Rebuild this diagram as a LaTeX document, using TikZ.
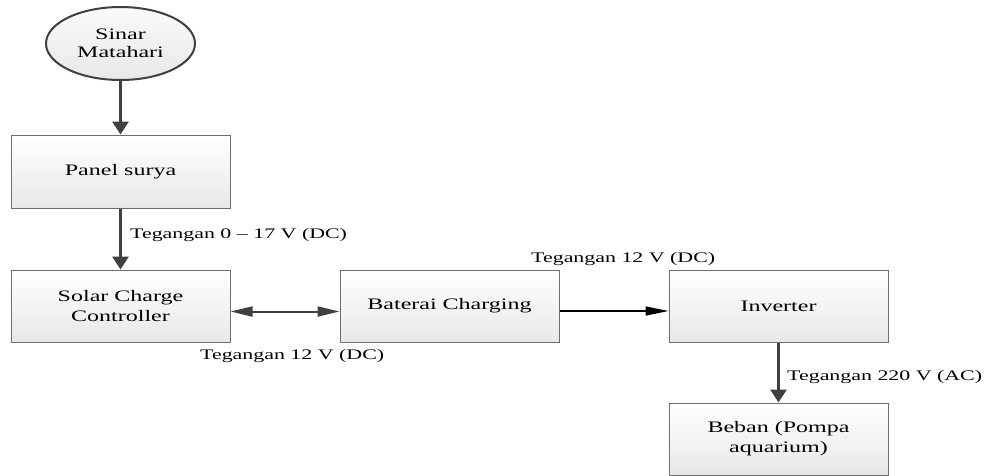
\documentclass[tikz,border=0pt]{standalone}
\usepackage{fontspec}
\setmainfont{Liberation Serif}
\usetikzlibrary{arrows.meta,shadows,shapes.geometric}
\newcommand{\sx}[1]{\scalebox{1.5}[1]{#1}}
\definecolor{arrowgray}{HTML}{404040}
\definecolor{boxline}{HTML}{6E6E6E}
\tikzset{
  blockbox/.style={draw=boxline, line width=1pt, minimum width=219pt, minimum height=72pt,
    inner sep=0pt, align=center, top color=white, bottom color=black!9,
    drop shadow={shadow xshift=1.2pt, shadow yshift=-1.2pt, fill=black!45, opacity=0.6},
    font=\fontsize{16}{20}\selectfont},
  sunshape/.style={ellipse, draw=arrowgray, line width=2pt, minimum width=149pt, minimum height=73pt,
    inner sep=0pt, align=center, top color=black!2, bottom color=black!9,
    font=\fontsize{16}{18.5}\selectfont},
  thickarrow/.style={draw=arrowgray, line width=3pt, -{Triangle[length=13pt,width=16pt]}},
  dblarrow/.style={draw=arrowgray, line width=2pt, {Triangle[length=22pt,width=10pt]}-{Triangle[length=22pt,width=10pt]}},
  thinarrow/.style={draw=black, line width=1.5pt, -{Triangle[length=23pt,width=9pt]}},
  lbl/.style={inner sep=0pt, anchor=west, font=\fontsize{14.6}{17}\selectfont}
}
\begin{document}
\begin{tikzpicture}[x=1pt,y=-1pt]
\useasboundingbox (0,0) rectangle (987,475);
\node[sunshape] (sun) at (120.5,43.5) {\sx{Sinar}\\\sx{Matahari}};
\node[blockbox, minimum height=73pt] (panel) at (120.5,171.5) {\sx{Panel surya}};
\node[blockbox] (scc) at (120.5,306) {\sx{Solar Charge}\\\sx{Controller}};
\node[blockbox] (bat) at (449.5,306) {\sx{Baterai Charging}};
\node[blockbox] (inv) at (778.5,306) {\sx{Inverter}};
\node[blockbox] (beban) at (778.5,439) {\sx{Beban (Pompa}\\\sx{aquarium)}};

\draw[thickarrow] (sun.south) -- (panel.north);
\draw[thickarrow] (panel.south) -- (scc.north);
\draw[thickarrow] (inv.south) -- (beban.north);
\draw[dblarrow] ([yshift=-5.5pt]scc.east) -- ([yshift=-5.5pt]bat.west);
\draw[thinarrow] ([yshift=-5pt]bat.east) -- ([yshift=-5pt]inv.west);

\node[lbl] (l1) at (130,235) {\sx{Tegangan 0 – 17 V (DC)}};
\node[lbl] (l2) at (531,259) {\sx{Tegangan 12 V (DC)}};
\node[lbl] (l3) at (200,356) {\sx{Tegangan 12 V (DC)}};
\node[lbl] (l4) at (787,377) {\sx{Tegangan 220 V (AC)}};
\end{tikzpicture}
\end{document}
